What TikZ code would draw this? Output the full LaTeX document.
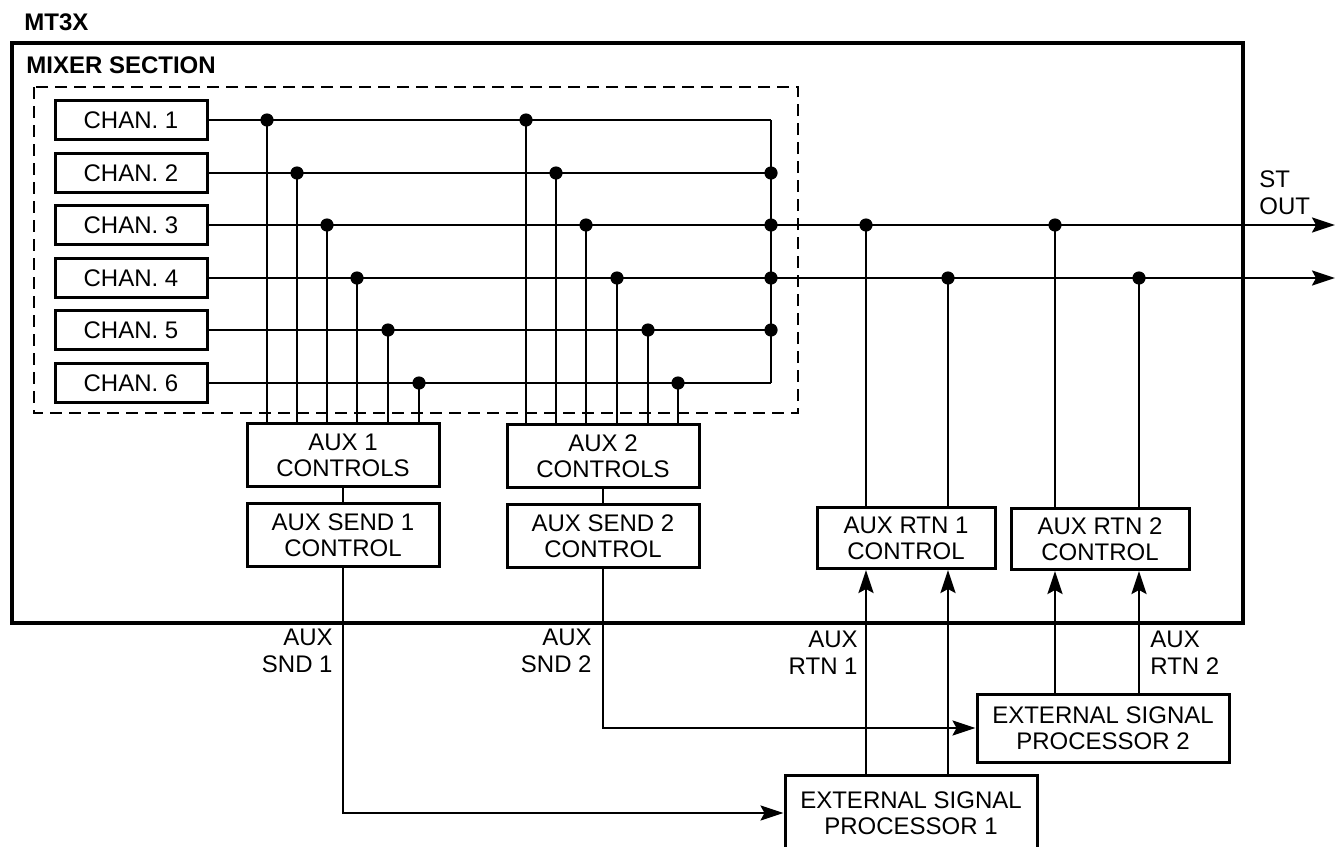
\documentclass[tikz,border=0pt]{standalone}
\usepackage{fontspec}
\setmainfont{Liberation Sans}
\usetikzlibrary{arrows.meta,positioning,calc}

\begin{document}
\begin{tikzpicture}[x=0.5pt, y=-0.5pt,
  blk/.style={rectangle, draw, line width=1.5pt, align=center, inner sep=0pt, font=\fontsize{12}{13}\selectfont},
  chan/.style={blk, minimum width=76pt, minimum height=19.5pt},
  ctrl/.style={blk, minimum width=96pt, minimum height=31.5pt},
  rtn/.style={blk, minimum width=89pt, minimum height=30.5pt},
  esp/.style={blk, minimum width=126pt, minimum height=34pt},
  wire/.style={line width=1.2pt},
  sig/.style={wire, -{Stealth[length=11.5pt, width=7.5pt, inset=2pt]}},
  lbl/.style={inner sep=0pt, font=\fontsize{12}{13.5}\selectfont},
  title/.style={inner sep=0pt, anchor=west, font=\fontsize{12}{13}\selectfont\bfseries},
]
  \useasboundingbox (0,0) rectangle (1342,846);

  % frames
  \node[title] (mt3x) at (24,22) {MT3X};
  \draw[line width=2.2pt] (12,43) rectangle (1243,623);
  \node[title] (mixsec) at (26,65) {MIXER SECTION};
  \draw[wire, dash pattern=on 6pt off 3.5pt] (34,87) rectangle (798,413);

  % aux send side
  \node[ctrl] (aux1) at (343,455) {AUX 1\\CONTROLS};
  \node[ctrl] (send1) at (343,535) {AUX SEND 1\\CONTROL};
  \node[ctrl] (aux2) at (603,456) {AUX 2\\CONTROLS};
  \node[ctrl] (send2) at (603,536) {AUX SEND 2\\CONTROL};

  % aux return side
  \node[rtn] (rtn1) at (906,538) {AUX RTN 1\\CONTROL};
  \node[rtn] (rtn2) at (1100,539) {AUX RTN 2\\CONTROL};
  \node[esp] (esp2) at (1103,728) {EXTERNAL SIGNAL\\PROCESSOR 2};
  \node[esp, minimum height=38pt] (esp1) at (911,813) {EXTERNAL SIGNAL\\PROCESSOR 1};

  % channels and their taps
  \foreach \i/\y/\xa/\xb in {1/120/267/526, 2/173/297/556, 3/225/327/586,
                             4/278/357/617, 5/330/388/648, 6/383/419/678} {
    \node[chan] (ch\i) at (131,\y) {CHAN. \i};
    \coordinate (bus\i) at (771,\y);
    \coordinate (ta\i) at (\xa,\y);
    \coordinate (tb\i) at (\xb,\y);
    \draw[wire] (ch\i.east) -- (bus\i);
    \draw[wire] (ta\i) -- (ta\i |- aux1.north);
    \draw[wire] (tb\i) -- (tb\i |- aux2.north);
    \fill (ta\i) circle (3.3pt);
    \fill (tb\i) circle (3.3pt);
  }
  \draw[wire] (bus1) -- (bus6);
  \foreach \i in {2,...,5} \fill (bus\i) circle (3.3pt);

  % stereo out
  \coordinate (stL) at (1335,225);
  \coordinate (stR) at (1335,278);
  \draw[sig] (bus3) -- (stL);
  \draw[sig] (bus4) -- (stR);
  \node[lbl, anchor=west, align=left] (stout) at (1259,193) {ST\\OUT};

  % sends
  \draw[wire] (aux1) -- (send1);
  \draw[wire] (aux2) -- (send2);
  \draw[sig] (send1) |- (esp1);
  \draw[sig] (send2) |- (esp2);

  % returns
  \coordinate (r1a) at (866,225);
  \coordinate (r1b) at (948,278);
  \coordinate (r2a) at (1055,225);
  \coordinate (r2b) at (1139,278);
  \foreach \r/\b/\e in {r1a/rtn1/esp1, r1b/rtn1/esp1, r2a/rtn2/esp2, r2b/rtn2/esp2} {
    \draw[wire] (\r) -- (\r |- \b.north);
    \fill (\r) circle (3.3pt);
    \draw[sig] (\r |- \e.north) -- (\r |- \b.south);
  }

  % signal labels
  \node[lbl, anchor=east, align=right] (snd1lbl) at (333,651) {AUX\\SND 1};
  \node[lbl, anchor=east, align=right] (snd2lbl) at (592,651) {AUX\\SND 2};
  \node[lbl, anchor=east, align=right] (rtn1lbl) at (858,653) {AUX\\RTN 1};
  \node[lbl, anchor=west, align=left] (rtn2lbl) at (1150,653) {AUX\\RTN 2};
\end{tikzpicture}
\end{document}
